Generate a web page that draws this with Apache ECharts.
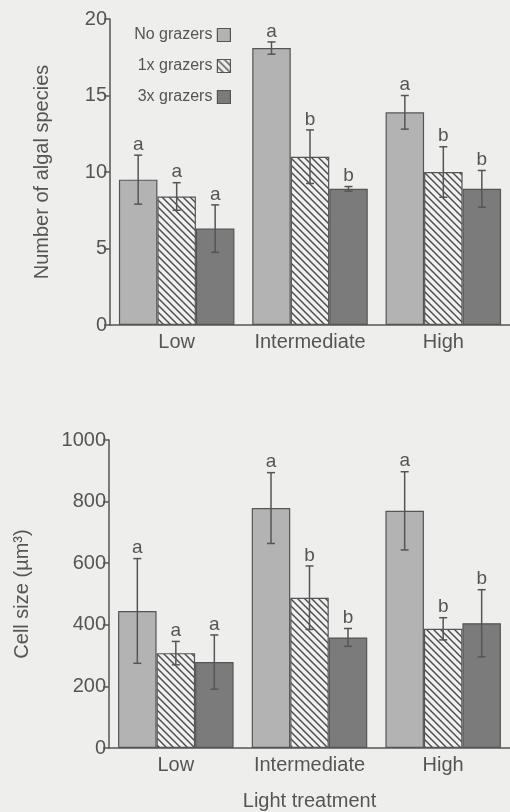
<!DOCTYPE html>
<html><head><meta charset="utf-8">
<script src="https://cdn.jsdelivr.net/npm/echarts@6/dist/echarts.min.js"></script>
<style>html,body{margin:0;padding:0;background:#eeeeec}#c{width:510px;height:812px}</style>
</head><body><div id="c"></div>
<script>
var categories = ['Low', 'Intermediate', 'High'];
var seriesNames = ['No grazers', '1x grazers', '3x grazers'];

// Top panel: number of algal species (mean, SE)
var speciesNo = [9.5, 18.1, 13.9];
var speciesNoErr = [1.6, 0.4, 1.1];
var species1x = [8.4, 11.0, 10.0];
var species1xErr = [0.9, 1.75, 1.65];
var species3x = [6.3, 8.9, 8.9];
var species3xErr = [1.55, 0.15, 1.2];
var speciesLettersNo = ['a', 'a', 'a'];
var speciesLetters1x = ['a', 'b', 'b'];
var speciesLetters3x = ['a', 'b', 'b'];
var speciesTicks = {min: 0, max: 20, interval: 5};

// Bottom panel: cell size (µm³)
var cellNo = [445, 779, 770];
var cellNoErr = [170, 115, 127];
var cell1x = [308, 488, 387];
var cell1xErr = [38, 103, 36];
var cell3x = [279, 359, 405];
var cell3xErr = [88, 29, 109];
var cellLettersNo = ['a', 'a', 'a'];
var cellLetters1x = ['a', 'b', 'b'];
var cellLetters3x = ['a', 'b', 'b'];
var cellTicks = {min: 0, max: 1000, interval: 200};

var FONT = '"Liberation Sans", Arial, Helvetica, sans-serif';
var TXT = '#555';
var BAR_W = 38.5;

// hatch pattern
var s = 7, cv = document.createElement('canvas');
cv.width = s; cv.height = s;
var cx = cv.getContext('2d');
cx.fillStyle = '#f0f0f0'; cx.fillRect(0, 0, s, s);
cx.strokeStyle = '#4a4a4a'; cx.lineWidth = 1.4;
cx.beginPath();
cx.moveTo(-1, -1); cx.lineTo(s + 1, s + 1);
cx.moveTo(-1, s - 1); cx.lineTo(1, s + 1);
cx.moveTo(s - 1, -1); cx.lineTo(s + 1, 1);
cx.stroke();

var fills = ['#b3b3b3', {image: cv, repeat: 'repeat'}, '#7b7b7b'];

function barSeries(k, data, gi) {
  return {
    type: 'bar', name: seriesNames[k], xAxisIndex: gi, yAxisIndex: gi,
    data: data, barWidth: BAR_W, barGap: '0%',
    itemStyle: {color: fills[k], borderColor: '#555', borderWidth: 1.2},
    emphasis: {disabled: true}
  };
}
function errSeries(k, means, errs, letters, gi) {
  return {
    type: 'custom', name: seriesNames[k] + ' error', xAxisIndex: gi, yAxisIndex: gi, z: 10,
    data: categories.map(function (c, i) { return [i, means[i] - errs[i], means[i] + errs[i]]; }),
    renderItem: function (params, api) {
      var i = params.dataIndex;
      var lo = api.coord([api.value(0), api.value(1)]);
      var hi = api.coord([api.value(0), api.value(2)]);
      var x = lo[0] + (k - 1) * BAR_W;
      var st = {stroke: '#555', lineWidth: 1.5};
      return {type: 'group', children: [
        {type: 'line', shape: {x1: x, y1: lo[1], x2: x, y2: hi[1]}, style: st},
        {type: 'line', shape: {x1: x - 4, y1: lo[1], x2: x + 4, y2: lo[1]}, style: st},
        {type: 'line', shape: {x1: x - 4, y1: hi[1], x2: x + 4, y2: hi[1]}, style: st},
        {type: 'text', x: x, y: hi[1] - 1, style: {text: letters[i], fill: TXT, font: '19px ' + FONT, textAlign: 'center', textVerticalAlign: 'bottom'}}
      ]};
    }
  };
}

var yAxisBase = function (gi, t, name, gap) {
  return {
    type: 'value', gridIndex: gi, min: t.min, max: t.max, interval: t.interval,
    name: name, nameLocation: 'middle', nameGap: gap,
    nameTextStyle: {fontSize: 20, color: TXT, fontFamily: FONT},
    axisLine: {show: true, lineStyle: {color: '#555', width: 1.5}},
    axisTick: {show: true, length: 6, lineStyle: {color: '#555', width: 1.5}},
    axisLabel: {fontSize: 20, color: TXT, fontFamily: FONT, margin: 3, formatter: function (v) { return String(v); }},
    splitLine: {show: false}
  };
};
var xAxisBase = function (gi) {
  return {
    type: 'category', gridIndex: gi, data: categories,
    axisLine: {lineStyle: {color: '#555', width: 1.5}},
    axisTick: {show: false},
    axisLabel: {fontSize: 20, color: TXT, fontFamily: FONT, margin: 7, interval: 0, hideOverlap: false}
  };
};

var xTop = xAxisBase(0), xBot = xAxisBase(1);
xBot.name = 'Light treatment'; xBot.nameLocation = 'middle'; xBot.nameGap = 43;
xBot.nameTextStyle = {fontSize: 20, color: TXT, fontFamily: FONT};

var chart = echarts.init(document.getElementById('c'));
chart.setOption({
  backgroundColor: '#eeeeec',
  animation: false,
  textStyle: {fontFamily: FONT},
  grid: [
    {left: 110, top: 19, width: 404, height: 306},
    {left: 109, top: 440, width: 403, height: 309}
  ],
  xAxis: [xTop, xBot],
  yAxis: [yAxisBase(0, speciesTicks, 'Number of algal species', 58), yAxisBase(1, cellTicks, 'Cell size (µm³)', 77)],
  legend: {
    data: seriesNames, orient: 'vertical', align: 'right', right: 274, top: 22,
    icon: 'rect', itemWidth: 13, itemHeight: 13, itemGap: 15,
    itemStyle: {borderColor: '#555', borderWidth: 1.2},
    textStyle: {fontSize: 16, color: TXT, fontFamily: FONT},
    selectedMode: false
  },
  series: [
    barSeries(0, speciesNo, 0), barSeries(1, species1x, 0), barSeries(2, species3x, 0),
    barSeries(0, cellNo, 1), barSeries(1, cell1x, 1), barSeries(2, cell3x, 1),
    errSeries(0, speciesNo, speciesNoErr, speciesLettersNo, 0),
    errSeries(1, species1x, species1xErr, speciesLetters1x, 0),
    errSeries(2, species3x, species3xErr, speciesLetters3x, 0),
    errSeries(0, cellNo, cellNoErr, cellLettersNo, 1),
    errSeries(1, cell1x, cell1xErr, cellLetters1x, 1),
    errSeries(2, cell3x, cell3xErr, cellLetters3x, 1)
  ]
});
</script></body></html>
